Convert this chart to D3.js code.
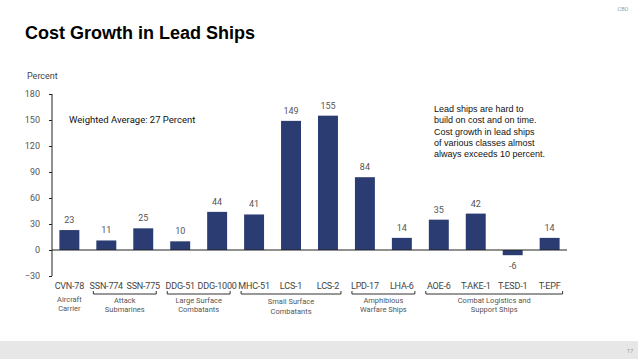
<!DOCTYPE html>
<html><head><meta charset="utf-8">
<script src="https://cdn.jsdelivr.net/npm/d3@7"></script>
<style>body{margin:0;background:#fff}svg{display:block}</style>
</head><body>
<script>
const categories = ["CVN-78","SSN-774","SSN-775","DDG-51","DDG-1000","MHC-51","LCS-1","LCS-2","LPD-17","LHA-6","AOE-6","T-AKE-1","T-ESD-1","T-EPF"];
const values = [23,11,25,10,44,41,149,155,84,14,35,42,-6,14];
const yTicks = [-30,0,30,60,90,120,150,180];
const groups = [
  {lines:["Aircraft","Carrier"], from:0, to:0, bracket:false},
  {lines:["Attack","Submarines"], from:1, to:2, bracket:true},
  {lines:["Large Surface","Combatants"], from:3, to:4, bracket:true},
  {lines:["Small Surface","Combatants"], from:5, to:7, bracket:true},
  {lines:["Amphibious","Warfare Ships"], from:8, to:9, bracket:true},
  {lines:["Combat Logistics and","Support Ships"], from:10, to:13, bracket:true}
];
const noteLines = ["Lead ships are hard to","build on cost and on time.","Cost growth in lead ships","of various classes almost","always exceeds 10 percent."];

const W=638,H=359;
const svg=d3.select("body").append("svg").attr("width",W).attr("height",H);
const font="Roboto, 'Open Sans', sans-serif";

svg.append("rect").attr("x",0).attr("y",341).attr("width",W).attr("height",18).attr("fill","#e7e7e7");
svg.append("text").attr("x",630).attr("y",353).attr("font-size",6).attr("fill","#999").attr("text-anchor","middle").attr("font-family",font).text("17");
svg.append("text").attr("x",623).attr("y",11).attr("font-size",5.5).attr("fill","#999").attr("text-anchor","middle").attr("font-family",font).text("CBO");

svg.append("text").attr("x",25).attr("y",39).attr("font-size",18).attr("font-weight","bold")
  .attr("font-family","'Liberation Sans', Arial, sans-serif").attr("fill","#000").text("Cost Growth in Lead Ships");

svg.append("text").attr("x",27).attr("y",79).attr("font-size",9).attr("fill","#444").attr("font-family",font).text("Percent");

const x=d3.scaleBand().domain(categories).range([52,567]).paddingInner(0.46).paddingOuter(0.2);
const y=d3.scaleLinear().domain([-30,180]).range([276,94]);

const yAxis=svg.append("g").attr("transform","translate(52,0)")
  .call(d3.axisLeft(y).tickValues(yTicks).tickSize(3).tickPadding(9));
yAxis.select(".domain").attr("stroke","#222").attr("d","M0,"+y(180)+"V"+y(-30)+"H0");
yAxis.selectAll(".tick line").attr("stroke","#222");
yAxis.selectAll(".tick text").attr("font-size",9).attr("fill","#555").attr("font-family",font);

svg.selectAll("rect.bar").data(values).join("rect").attr("class","bar")
  .attr("x",(d,i)=>x(categories[i])).attr("width",x.bandwidth())
  .attr("y",d=>y(Math.max(0,d))).attr("height",d=>Math.abs(y(d)-y(0)))
  .attr("fill","#2b3c72");

svg.append("line").attr("x1",52).attr("x2",567).attr("y1",y(0)).attr("y2",y(0)).attr("stroke","#222").attr("stroke-width",1);

svg.selectAll("text.val").data(values).join("text").attr("class","val")
  .attr("x",(d,i)=>x(categories[i])+x.bandwidth()/2)
  .attr("y",d=>d>=0?y(d)-7:y(d)+14)
  .attr("text-anchor","middle").attr("font-size",9).attr("fill","#555").attr("font-family",font)
  .text(d=>d);

svg.selectAll("text.cat").data(categories).join("text").attr("class","cat")
  .attr("x",d=>x(d)+x.bandwidth()/2).attr("y",289)
  .attr("text-anchor","middle").attr("font-size",9).attr("letter-spacing",-0.2).attr("fill","#444").attr("font-family",font).text(d=>d);

const half=x.step()/2-1.5;
groups.forEach(g=>{
  const x0=x(categories[g.from])+x.bandwidth()/2, x1=x(categories[g.to])+x.bandwidth()/2;
  if(g.bracket){
    const a=x0-half+4, b=x1+half-4, by=294;
    svg.append("path").attr("d",`M${a},${by-3}V${by}H${b}V${by-3}`).attr("fill","none").attr("stroke","#333").attr("stroke-width",1);
  }
  const cx=(x0+x1)/2;
  const t=svg.append("text").attr("text-anchor","middle").attr("font-size",7.5).attr("fill","#555").attr("font-family",font);
  const small = g.lines[0]==="Small Surface";
  const base = small ? 304 : 303;
  g.lines.forEach((l,i)=>t.append("tspan").attr("x",cx).attr("y",(g.bracket?base:302)+i*(small?10:9)).text(l));
});

svg.append("text").attr("x",69).attr("y",123).attr("font-size",9.5).attr("fill","#111").attr("font-family",font).text("Weighted Average: 27 Percent");

const nt=svg.append("text").attr("font-size",9).attr("fill","#111").attr("font-family","'Liberation Sans', Arial, sans-serif");
noteLines.forEach((l,i)=>nt.append("tspan").attr("x",434).attr("y",112+i*11.3).text(l));
</script>
</body></html>
